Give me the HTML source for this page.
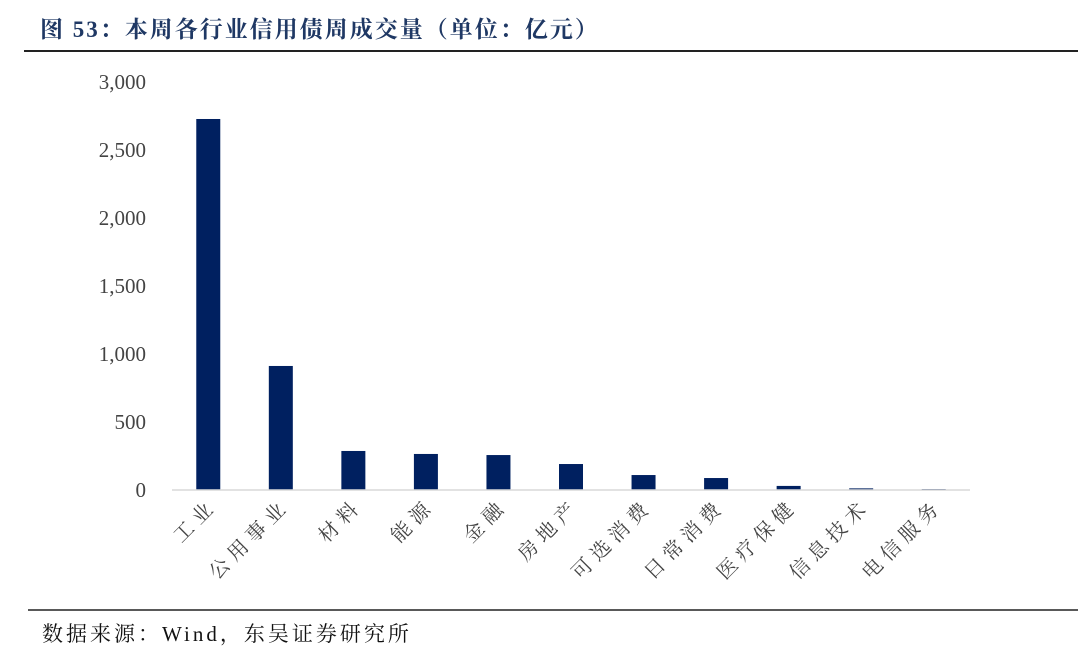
<!DOCTYPE html>
<html><head><meta charset="utf-8"><style>
body{margin:0;background:#fff;}
svg text{font-family:"Liberation Serif","Noto Serif CJK SC",serif;}
</style></head><body>
<svg width="1080" height="653" viewBox="0 0 1080 653" xmlns="http://www.w3.org/2000/svg">
<text x="40" y="37" font-size="23" font-weight="bold" fill="#1f3864" letter-spacing="2">图 53：本周各行业信用债周成交量（单位：亿元）</text>
<line x1="24" y1="51" x2="1078" y2="51" stroke="#222" stroke-width="2"/>
<g id="plot"></g>
<line x1="28" y1="610" x2="1078" y2="610" stroke="#222" stroke-width="1.5"/>
<text x="42" y="641" font-size="21" fill="#111" letter-spacing="3">数据来源：Wind，东吴证券研究所</text>
</svg>
<script>
const categories=["工业","公用事业","材料","能源","金融","房地产","可选消费","日常消费","医疗保健","信息技术","电信服务"];
const values=[2728,912,287,265,257,191,110,88,30,12,7];
const yTicks=[0,500,1000,1500,2000,2500,3000];
const yTickLabels=["0","500","1,000","1,500","2,000","2,500","3,000"];
const NS="http://www.w3.org/2000/svg";
const g=document.getElementById('plot');
const x0=172,x1=970,y0=490,y1=82,yMax=3000;
const band=(x1-x0)/categories.length;
const yS=v=>y0-(v/yMax)*(y0-y1);
const xC=i=>x0+band*(i+0.5);
function mk(t,a){const e=document.createElementNS(NS,t);for(const k in a)e.setAttribute(k,a[k]);g.appendChild(e);return e;}
yTicks.forEach((t,i)=>{
  const e=mk('text',{x:146,y:yS(t)+7,'text-anchor':'end','font-size':21,fill:'#444'});
  e.textContent=yTickLabels[i];
  
  
});
values.forEach((v,i)=>{
  const r=mk('rect',{x:xC(i)-12,y:yS(v),width:24,height:y0-yS(v),fill:'#002060'});
  
  
});
const ax=mk('line',{x1:x0,y1:y0,x2:x1,y2:y0,stroke:'#d9d9d9','stroke-width':1.5});


categories.forEach((c,i)=>{
  const x=xC(i)+10,y=507;
  const e=mk('text',{x:x,y:y,'text-anchor':'end','font-size':20,fill:'#444','letter-spacing':6,transform:`rotate(-45 ${x} ${y})`});
  e.textContent=c;
  
  
});
</script>
</body></html>
